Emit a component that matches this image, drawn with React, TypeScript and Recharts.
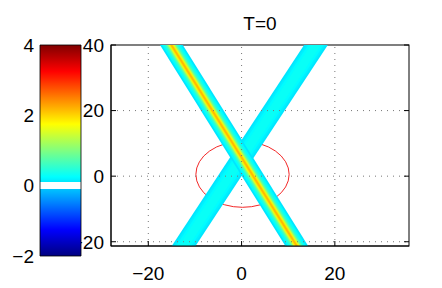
import React from "react";
import {
  ComposedChart,
  BarChart,
  Bar,
  Line,
  XAxis,
  YAxis,
  ReferenceLine,
  ReferenceArea,
} from "recharts";

const W = 442;
const H = 288;
const FONT = '"Liberation Sans", Arial, Helvetica, sans-serif';
const FS = 19;

// axes of the field plot
const xDomain = [-28, 35.9];
const yDomain = [-21.3, 40];
const xTicks = [-20, 0, 20];
const yTicks = [-20, 0, 20, 40];

// colour bar
const cbarDomain = [-2, 4];
const cbarTicks = [-2, 0, 2, 4];
const whiteBand = [-0.09, 0.1];

// centre lines of the two solitons (run a little past the frame)
const ridgeA = [
  { x: -16.8, y: 44 },
  { x: 13.9, y: -26 },
];
const ridgeB = [
  { x: -14.6, y: -26 },
  { x: 17.8, y: 44 },
];

// cross sections: field level and the horizontal width (x units) above it
const levelsA = [0.1, 0.25, 0.45, 0.7, 1.0, 1.3, 1.6, 1.9, 2.15];
const widthsA = [4.9, 4.0, 3.1, 2.4, 1.9, 1.5, 1.2, 0.85, 0.45];
const levelsB = [0.1, 0.17, 0.24, 0.3];
const widthsB = [5.1, 4.2, 3.3, 2.2];

// red ring, bounding box in data units
const ringX = [-9.8, 10.2];
const ringY = [-9.5, 10.6];

// layout
const M = { top: 44, right: 32, bottom: 0, left: 0 };
const yAxisW = 111;
const xAxisH = 42;
const edge = 1;
const plotW = W - M.right - edge - yAxisW;
const plotH = H - M.top - edge - xAxisH;
const kx = plotW / (xDomain[1] - xDomain[0]);
const ky = plotH / (yDomain[1] - yDomain[0]);

function jet(v: number) {
  const t = (v - cbarDomain[0]) / (cbarDomain[1] - cbarDomain[0]);
  const c = (d: number) =>
    Math.round(255 * Math.max(0, Math.min(1, 1.5 - Math.abs(4 * t - d))));
  return `rgb(${c(3)},${c(2)},${c(1)})`;
}

// stroke width across the band from its horizontal width
function perpWidth(ridge: { x: number; y: number }[], w: number) {
  const dx = (ridge[1].x - ridge[0].x) * kx;
  const dy = (ridge[1].y - ridge[0].y) * ky;
  return (w * kx * Math.abs(dy)) / Math.hypot(dx, dy);
}

const fmt = (v: number) => (v < 0 ? "\u2212" + Math.abs(v) : String(v));

const LeftTick = (p: any) => (
  <g>
    <line x1={p.x} x2={p.x + 5} y1={p.y} y2={p.y} stroke="#000" />
    <text x={p.x - 7} y={p.y} dy={6.8} textAnchor="end" fontSize={FS} fontFamily={FONT} fill="#000">
      {fmt(p.payload.value)}
    </text>
  </g>
);

const BottomTick = (p: any) => (
  <g>
    <line x1={p.x} x2={p.x} y1={p.y} y2={p.y - 5} stroke="#000" />
    <text x={p.x} y={p.y} dy={34} textAnchor="middle" fontSize={FS} fontFamily={FONT} fill="#000">
      {fmt(p.payload.value)}
    </text>
  </g>
);

const TopTick = (p: any) => <line x1={p.x} x2={p.x} y1={p.y} y2={p.y + 5} stroke="#000" />;
const RightTick = (p: any) => <line x1={p.x} x2={p.x - 5} y1={p.y} y2={p.y} stroke="#000" />;

const CbarTick = (p: any) => (
  <text x={p.x - 6} y={p.y} dy={6.8} textAnchor="end" fontSize={FS} fontFamily={FONT} fill="#000">
    {fmt(p.payload.value)}
  </text>
);

function cbarStops() {
  const [lo, hi] = cbarDomain;
  const span = hi - lo;
  const stops: { off: number; col: string }[] = [];
  const push = (v: number, col: string) => stops.push({ off: (hi - v) / span, col });
  for (let v = hi; v > whiteBand[1]; v -= 0.125) push(v, jet(v));
  push(whiteBand[1], jet(whiteBand[1]));
  push(whiteBand[1], "#fff");
  push(whiteBand[0], "#fff");
  push(whiteBand[0], jet(whiteBand[0]));
  for (let v = -0.125; v >= lo; v -= 0.125) push(v, jet(v));
  return stops;
}

const Ring = (p: any) => (
  <ellipse
    cx={p.x + p.width / 2}
    cy={p.y + p.height / 2}
    rx={p.width / 2}
    ry={p.height / 2}
    fill="none"
    stroke="#f01010"
    strokeWidth={0.9}
  />
);

const Frame = (p: any) => (
  <rect x={p.x} y={p.y} width={p.width} height={p.height} fill="none" stroke="#000" />
);

function FieldPlot() {
  const bands = [
    ...levelsB.map((v, i) => ({ key: `b${i}`, ridge: ridgeB, v, w: widthsB[i] })),
    ...levelsA.map((v, i) => ({ key: `a${i}`, ridge: ridgeA, v, w: widthsA[i] })),
  ];
  return (
    <ComposedChart width={W} height={H} margin={M}>
      <XAxis
        dataKey="x"
        type="number"
        domain={xDomain}
        ticks={xTicks}
        allowDataOverflow
        height={xAxisH}
        tickSize={0}
        tickMargin={0}
        tickLine={false}
        axisLine={{ stroke: "#000" }}
        tick={(p: any) => <BottomTick {...p} />}
      />
      <XAxis
        xAxisId="top"
        orientation="top"
        type="number"
        domain={xDomain}
        ticks={xTicks}
        allowDataOverflow
        height={edge}
        tickSize={0}
        tickMargin={0}
        tickLine={false}
        axisLine={false}
        tick={(p: any) => <TopTick {...p} />}
      />
      <YAxis
        type="number"
        domain={yDomain}
        ticks={yTicks}
        allowDataOverflow
        width={yAxisW}
        tickSize={0}
        tickMargin={0}
        tickLine={false}
        axisLine={{ stroke: "#000" }}
        tick={(p: any) => <LeftTick {...p} />}
      />
      <YAxis
        yAxisId="right"
        orientation="right"
        type="number"
        domain={yDomain}
        ticks={yTicks}
        allowDataOverflow
        width={edge}
        tickSize={0}
        tickMargin={0}
        tickLine={false}
        axisLine={false}
        tick={(p: any) => <RightTick {...p} />}
      />
      {bands.map((b) => (
        <Line
          key={b.key}
          data={b.ridge}
          dataKey="y"
          stroke={jet(b.v)}
          strokeWidth={perpWidth(b.ridge, b.w)}
          strokeLinecap="butt"
          dot={false}
          activeDot={false}
          isAnimationActive={false}
        />
      ))}
      {xTicks.map((t) => (
        <ReferenceLine key={`gx${t}`} x={t} stroke="#777" strokeDasharray="1 5" />
      ))}
      {yTicks.slice(0, 3).map((t) => (
        <ReferenceLine key={`gy${t}`} y={t} stroke="#777" strokeDasharray="1 5" />
      ))}
      <ReferenceArea x1={ringX[0]} x2={ringX[1]} y1={ringY[0]} y2={ringY[1]} shape={Ring} />
      <ReferenceArea
        x1={xDomain[0]}
        x2={xDomain[1]}
        y1={yDomain[0]}
        y2={yDomain[1]}
        ifOverflow="visible"
        shape={Frame}
      />
    </ComposedChart>
  );
}

function ColorBar() {
  const stops = cbarStops();
  return (
    <BarChart
      width={82}
      height={H}
      data={[{ r: cbarDomain }]}
      margin={{ top: 45, right: 1, bottom: 32, left: 0 }}
      barCategoryGap={0}
    >
      <defs>
        <linearGradient id="cbarGrad" x1="0" y1="0" x2="0" y2="1">
          {stops.map((s, i) => (
            <stop key={i} offset={s.off} stopColor={s.col} />
          ))}
        </linearGradient>
      </defs>
      <XAxis hide />
      <YAxis
        type="number"
        domain={cbarDomain}
        ticks={cbarTicks}
        width={40}
        tickSize={0}
        tickMargin={0}
        tickLine={false}
        axisLine={false}
        tick={(p: any) => <CbarTick {...p} />}
      />
      <Bar dataKey="r" fill="url(#cbarGrad)" stroke="#000" strokeWidth={0.8} isAnimationActive={false} />
    </BarChart>
  );
}

export default function App() {
  return (
    <div
      style={{
        position: "absolute",
        left: 0,
        top: 0,
        width: W,
        height: H,
        background: "#fff",
        fontFamily: FONT,
      }}
    >
      <div style={{ position: "absolute", left: 0, top: 0 }}>
        <FieldPlot />
      </div>
      <div style={{ position: "absolute", left: 0, top: 0 }}>
        <ColorBar />
      </div>
      <div
        style={{
          position: "absolute",
          left: yAxisW,
          width: plotW,
          top: 14,
          textAlign: "center",
          fontSize: FS,
          lineHeight: `${FS}px`,
          color: "#000",
        }}
      >
        T=0
      </div>
    </div>
  );
}
